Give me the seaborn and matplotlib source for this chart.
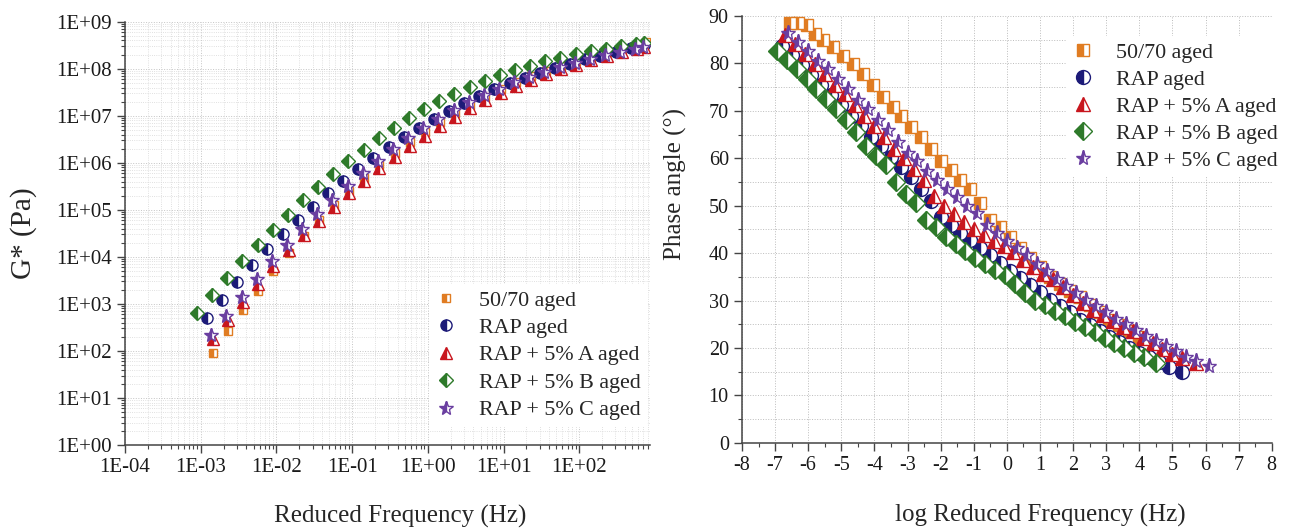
import numpy as np
import matplotlib
matplotlib.use("Agg")
import matplotlib.pyplot as plt
from matplotlib.ticker import FuncFormatter, LogLocator, MultipleLocator, NullFormatter
import seaborn as sns

sns.set_style("ticks")
plt.rcParams['font.family'] = ['Liberation Serif', 'DejaVu Serif']
plt.rcParams['axes.unicode_minus'] = False

labels = ["50/70 aged", "RAP aged", "RAP + 5% A aged", "RAP + 5% B aged", "RAP + 5% C aged"]
colors = ["#e07c22", "#1c1a78", "#c8161e", "#2e7a2a", "#6a3ea0"]
markers = ["s", "o", "^", "D", "*"]

# ---- master curve G* (log10 of reduced frequency in Hz, log10 of G* in Pa)
logf_5070 = [-2.84, -2.64, -2.44, -2.24, -2.04, -1.84, -1.64, -1.44, -1.24, -1.04, -0.84, -0.64, -0.44, -0.24, -0.04,
             0.16, 0.36, 0.56, 0.76, 0.96, 1.16, 1.36, 1.56, 1.76, 1.96, 2.16, 2.36, 2.56, 2.76, 2.88]
logg_5070 = [1.95, 2.42, 2.86, 3.28, 3.70, 4.08, 4.44, 4.78, 5.10, 5.40, 5.68, 5.95, 6.20, 6.44, 6.66,
             6.87, 7.06, 7.24, 7.41, 7.57, 7.71, 7.84, 7.96, 8.07, 8.17, 8.26, 8.35, 8.43, 8.50, 8.56]

logf_rap = [-2.92, -2.72, -2.52, -2.32, -2.12, -1.92, -1.72, -1.52, -1.32, -1.12, -0.92, -0.72, -0.52, -0.32, -0.12,
            0.08, 0.28, 0.48, 0.68, 0.88, 1.08, 1.28, 1.48, 1.68, 1.88, 2.08, 2.28, 2.48, 2.68, 2.85]
logg_rap = [2.70, 3.09, 3.47, 3.83, 4.16, 4.48, 4.78, 5.07, 5.35, 5.61, 5.86, 6.10, 6.33, 6.54, 6.74,
            6.93, 7.10, 7.27, 7.42, 7.56, 7.69, 7.81, 7.92, 8.02, 8.11, 8.20, 8.28, 8.36, 8.44, 8.50]

logf_a = [-2.84, -2.64, -2.44, -2.24, -2.04, -1.84, -1.64, -1.44, -1.24, -1.04, -0.84, -0.64, -0.44, -0.24, -0.04,
          0.16, 0.36, 0.56, 0.76, 0.96, 1.16, 1.36, 1.56, 1.76, 1.96, 2.16, 2.36, 2.56, 2.76, 2.86]
logg_a = [2.25, 2.66, 3.05, 3.43, 3.80, 4.14, 4.46, 4.77, 5.06, 5.35, 5.62, 5.88, 6.12, 6.35, 6.57,
          6.78, 6.98, 7.16, 7.33, 7.49, 7.63, 7.76, 7.88, 7.99, 8.09, 8.18, 8.27, 8.35, 8.42, 8.46]

logf_b = [-3.05, -2.85, -2.65, -2.45, -2.25, -2.05, -1.85, -1.65, -1.45, -1.25, -1.05, -0.85, -0.65, -0.45, -0.25,
          -0.05, 0.15, 0.35, 0.55, 0.75, 0.95, 1.15, 1.35, 1.55, 1.75, 1.95, 2.15, 2.35, 2.55, 2.75, 2.86]
logg_b = [2.80, 3.18, 3.55, 3.91, 4.26, 4.58, 4.90, 5.20, 5.49, 5.77, 6.03, 6.28, 6.52, 6.75, 6.95,
          7.14, 7.31, 7.46, 7.61, 7.74, 7.86, 7.97, 8.07, 8.16, 8.24, 8.31, 8.37, 8.43, 8.48, 8.53, 8.55]

logf_c = [-2.86, -2.66, -2.46, -2.26, -2.06, -1.86, -1.66, -1.46, -1.26, -1.06, -0.86, -0.66, -0.46, -0.26, -0.06,
          0.14, 0.34, 0.54, 0.74, 0.94, 1.14, 1.34, 1.54, 1.74, 1.94, 2.14, 2.34, 2.54, 2.74, 2.84]
logg_c = [2.34, 2.75, 3.14, 3.52, 3.91, 4.26, 4.59, 4.91, 5.21, 5.50, 5.78, 6.04, 6.29, 6.52, 6.74,
          6.94, 7.12, 7.29, 7.44, 7.58, 7.71, 7.83, 7.94, 8.04, 8.13, 8.21, 8.29, 8.36, 8.43, 8.46]

# ---- phase angle master curve (log reduced frequency, degrees)
lf_5070 = [-6.55, -6.3, -6.05, -5.8, -5.55, -5.25, -4.95, -4.65, -4.35, -4.05, -3.75, -3.45, -3.2, -2.9, -2.6,
           -2.3, -2.0, -1.7, -1.4, -1.1, -0.8, -0.5, -0.2, 0.1, 0.4, 0.7, 1.0, 1.3, 1.6, 1.9, 2.2, 2.5, 2.8,
           3.1, 3.4, 3.7, 4.0]
ph_5070 = [88.6, 88.5, 88.0, 86.2, 85.0, 83.5, 81.5, 79.8, 77.8, 75.5, 73.0, 70.8, 68.8, 66.5, 64.5,
           62.0, 59.5, 57.5, 55.5, 53.5, 50.5, 47.0, 45.5, 43.5, 41.0, 39.0, 37.0, 35.0, 33.5, 32.0, 30.8, 29.0, 27.5,
           26.0, 24.8, 23.5, 22.4]

lf_rap = [-6.8, -6.5, -6.2, -5.9, -5.6, -5.3, -5.0, -4.7, -4.4, -4.1, -3.8, -3.5, -3.2, -2.9, -2.6, -2.3, -2.0,
          -1.7, -1.4, -1.1, -0.8, -0.5, -0.2, 0.1, 0.4, 0.7, 1.0, 1.3, 1.6, 1.9, 2.2, 2.5, 2.8, 3.1, 3.4, 3.7,
          4.0, 4.3, 4.6, 4.9, 5.3]
ph_rap = [83.7, 81.7, 79.6, 77.6, 75.5, 73.4, 71.3, 69.0, 66.8, 64.5, 62.5, 60.3, 58.2, 56.0, 53.5, 51.0, 47.7,
          46.0, 44.3, 42.7, 41.0, 39.5, 38.0, 36.3, 34.7, 33.2, 31.8, 30.2, 28.8, 27.5, 26.0, 24.8, 23.5, 22.3, 21.2, 20.0,
          19.0, 18.0, 17.0, 16.0, 15.0]

lf_a = [-6.7, -6.4, -6.1, -5.8, -5.5, -5.2, -4.9, -4.6, -4.3, -4.0, -3.7, -3.4, -3.1, -2.8, -2.5, -2.2, -1.9,
        -1.6, -1.3, -1.0, -0.7, -0.4, -0.1, 0.2, 0.5, 0.8, 1.1, 1.4, 1.7, 2.0, 2.3, 2.6, 2.9, 3.2, 3.5, 3.8,
        4.1, 4.4, 4.7, 5.0, 5.3, 5.7]
ph_a = [86.0, 84.0, 82.0, 79.8, 77.8, 75.5, 73.5, 71.2, 69.0, 66.8, 64.5, 62.0, 60.0, 57.8, 55.5, 52.0, 50.0,
        48.2, 46.5, 45.0, 43.8, 42.5, 41.5, 40.2, 38.5, 37.0, 35.5, 34.6, 32.8, 31.2, 29.5, 28.0, 27.0, 25.6, 24.5, 23.5,
        22.0, 21.0, 19.8, 18.8, 17.8, 16.8]

lf_b = [-6.95, -6.65, -6.35, -6.05, -5.75, -5.45, -5.15, -4.85, -4.55, -4.25, -3.95, -3.65, -3.35, -3.05, -2.75,
        -2.45, -2.15, -1.85, -1.55, -1.25, -0.95, -0.65, -0.35, -0.05, 0.25, 0.55, 0.85, 1.15, 1.45, 1.75, 2.05,
        2.35, 2.65, 2.95, 3.25, 3.55, 3.85, 4.15, 4.5]
ph_b = [82.7, 80.8, 78.8, 76.8, 74.7, 72.5, 70.3, 68.0, 65.5, 62.5, 60.5, 58.5, 55.0, 52.5, 50.5,
        47.0, 45.5, 43.5, 42.0, 40.5, 39.0, 37.8, 36.5, 35.3, 33.5, 31.5, 30.0, 29.0, 27.8, 26.8, 25.5,
        24.4, 23.3, 22.2, 21.0, 20.0, 19.0, 18.0, 16.9]

lf_c = [-6.6, -6.3, -6.0, -5.7, -5.4, -5.1, -4.8, -4.5, -4.2, -3.9, -3.6, -3.3, -3.0, -2.7, -2.4, -2.1, -1.8,
        -1.5, -1.2, -0.9, -0.6, -0.3, 0.0, 0.3, 0.6, 0.9, 1.2, 1.5, 1.8, 2.1, 2.4, 2.7, 3.0, 3.3, 3.6, 3.9,
        4.2, 4.5, 4.8, 5.1, 5.4, 5.7, 6.1]
ph_c = [86.3, 84.5, 82.6, 80.6, 78.8, 76.6, 74.5, 72.3, 70.3, 68.0, 66.0, 63.5, 61.0, 59.5, 57.3, 55.5, 53.5,
        51.8, 50.0, 48.4, 46.0, 44.2, 42.5, 41.0, 39.5, 37.8, 36.2, 34.5, 33.0, 31.5, 30.2, 28.8, 27.5, 26.2, 25.0, 23.8,
        22.6, 21.5, 20.4, 19.3, 18.2, 17.2, 16.2]

gstar = [(logf_5070, logg_5070), (logf_rap, logg_rap), (logf_a, logg_a), (logf_b, logg_b), (logf_c, logg_c)]
phase = [(lf_5070, ph_5070), (lf_rap, ph_rap), (lf_a, ph_a), (lf_b, ph_b), (lf_c, ph_c)]

fig = plt.figure(figsize=(12.89, 5.31), dpi=100)
ax1 = fig.add_axes([0.097, 0.162, 0.407, 0.797])
ax2 = fig.add_axes([0.5756, 0.166, 0.411, 0.804])

msize_left = [6, 8, 8, 7, 10]
msize_right = [9, 10, 10, 9, 11]

# left panel: G* master curves
for (lf, lg), lab, col, mk, ms in zip(gstar, labels, colors, markers, msize_left):
    sns.lineplot(x=np.power(10.0, lf), y=np.power(10.0, lg), ax=ax1, label=lab,
                 estimator=None, errorbar=None, sort=False, linestyle="none",
                 marker=mk, markersize=ms, color=col, fillstyle="left",
                 markerfacecolor=col, markerfacecoloralt="white",
                 markeredgecolor=col, markeredgewidth=1.0)

ax1.set_xscale("log")
ax1.set_yscale("log")
ax1.set_xlim(1e-4, 8.5e2)
ax1.set_ylim(1, 1e9)
ax1.xaxis.set_major_locator(LogLocator(base=10, numticks=20))
ax1.yaxis.set_major_locator(LogLocator(base=10, numticks=20))
ax1.xaxis.set_minor_locator(LogLocator(base=10, subs=np.arange(2, 10), numticks=20))
ax1.yaxis.set_minor_locator(LogLocator(base=10, subs=np.arange(2, 10), numticks=20))
sci = FuncFormatter(lambda v, p: f"{v:.0E}")
ax1.xaxis.set_major_formatter(sci)
ax1.yaxis.set_major_formatter(sci)
ax1.xaxis.set_minor_formatter(NullFormatter())
ax1.yaxis.set_minor_formatter(NullFormatter())
ax1.grid(True, which="major", color="#c4c4c4", linestyle=":", linewidth=0.7)
ax1.grid(True, which="minor", color="#d6d6d6", linestyle=":", linewidth=0.6)
ax1.set_xlabel("Reduced Frequency (Hz)", fontsize=18)
ax1.xaxis.set_label_coords(0.524, -0.142)
ax1.set_ylabel("G* (Pa)", fontsize=21)
ax1.yaxis.set_label_coords(-0.168, 0.5)
ax1.legend(loc="lower right", bbox_to_anchor=(1.017, 0.017), fontsize=15.8, frameon=True,
           facecolor="white", edgecolor="none", framealpha=1, numpoints=1,
           handlelength=1.0, handletextpad=1.0, labelspacing=0.32, borderpad=0.3)

# right panel: phase angle
for (lf, ph), lab, col, mk, ms in zip(phase, labels, colors, markers, msize_right):
    sns.lineplot(x=lf, y=ph, ax=ax2, label=lab,
                 estimator=None, errorbar=None, sort=False, linestyle="none",
                 marker=mk, markersize=ms, color=col, fillstyle="left",
                 markerfacecolor=col, markerfacecoloralt="white",
                 markeredgecolor=col, markeredgewidth=1.0)

ax2.set_xlim(-8, 8)
ax2.set_ylim(0, 90)
ax2.xaxis.set_major_locator(MultipleLocator(1))
ax2.xaxis.set_minor_locator(MultipleLocator(0.5))
ax2.yaxis.set_major_locator(MultipleLocator(10))
ax2.yaxis.set_minor_locator(MultipleLocator(5))
ax2.grid(True, axis="x", which="major", color="#bcbcbc", linestyle=":", linewidth=0.7)
ax2.grid(True, axis="y", which="both", color="#bcbcbc", linestyle=":", linewidth=0.7)
ax2.set_xlabel("log Reduced Frequency (Hz)", fontsize=18)
ax2.xaxis.set_label_coords(0.5625, -0.144)
ax2.set_ylabel("Phase angle (°)", fontsize=18)
ax2.yaxis.set_label_coords(-0.104, 0.606)
ax2.legend(loc="upper right", bbox_to_anchor=(1.045, 0.979), fontsize=15.8, frameon=True,
           facecolor="white", edgecolor="none", framealpha=1, numpoints=1,
           handlelength=1.0, handletextpad=1.0, labelspacing=0.3, borderpad=0.3)

for ax, lsize in ((ax1, 15), (ax2, 14.5)):
    sns.despine(ax=ax)
    ax.set_axisbelow(True)
    for s in ("left", "bottom"):
        ax.spines[s].set_color("#444444")
        ax.spines[s].set_linewidth(1.1)
    ax.tick_params(which="major", direction="out", length=6, width=1, colors="#444444",
                   labelsize=lsize, labelcolor="#1a1a1a")
    ax.tick_params(which="minor", direction="out", length=3, width=0.8, colors="#444444")
    ax.xaxis.label.set_va("top")

fig.savefig("out.png", dpi=100)
